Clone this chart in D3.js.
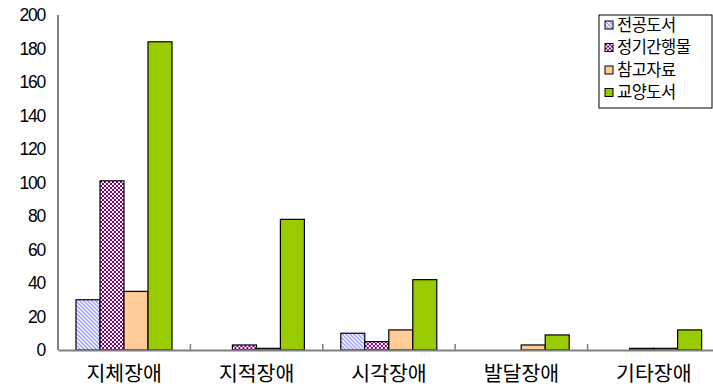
<!DOCTYPE html>
<html>
<head>
<meta charset="utf-8">
<script src="https://cdn.jsdelivr.net/npm/d3@7"></script>
<style>
  body { margin: 0; background: #fff; }
  text { font-family: "Noto Sans CJK KR", "Liberation Sans", sans-serif; }
</style>
</head>
<body>
<div id="chart"></div>
<script>
// Data
var categories = ["지체장애", "지적장애", "시각장애", "발달장애", "기타장애"];
var seriesNames = ["전공도서", "정기간행물", "참고자료", "교양도서"];
var major = [30, 0, 10, 0, 0];
var periodicals = [101, 3, 5, 0, 1];
var reference = [35, 1, 12, 3, 1];
var liberal = [184, 78, 42, 9, 12];
var yTicks = [0, 20, 40, 60, 80, 100, 120, 140, 160, 180, 200];

var seriesValues = [major, periodicals, reference, liberal];
var fills = ["url(#hatch)", "url(#checker)", "#ffcc99", "#99cc00"];

// Chart params
var svgWidth = 713;
var svgHeight = 392;
var margin = { top: 15, right: 0, bottom: 42, left: 58 };
var height = svgHeight - margin.top - margin.bottom;

var svg = d3.select("#chart")
  .append("svg")
  .attr("width", svgWidth)
  .attr("height", svgHeight);

// patterns
var defs = svg.append("defs");
var hatch = defs.append("pattern")
  .attr("id", "hatch")
  .attr("patternUnits", "userSpaceOnUse")
  .attr("width", 4).attr("height", 4);
hatch.append("rect").attr("width", 4).attr("height", 4).attr("fill", "#fff");
hatch.append("path")
  .attr("d", "M-1,-1 L5,5 M-1,3 L1,5 M3,-1 L5,1")
  .attr("stroke", "#9999ff")
  .attr("stroke-width", 1.4);

var checker = defs.append("pattern")
  .attr("id", "checker")
  .attr("patternUnits", "userSpaceOnUse")
  .attr("width", 4).attr("height", 4);
checker.append("rect").attr("width", 4).attr("height", 4).attr("fill", "#fff");
checker.append("rect").attr("width", 2).attr("height", 2).attr("fill", "#800080");
checker.append("rect").attr("x", 2).attr("y", 2).attr("width", 2).attr("height", 2).attr("fill", "#800080");

var chartGroup = svg.append("g")
  .attr("transform", `translate(${margin.left}, ${margin.top})`);

// Scales
var x0 = d3.scaleBand()
  .domain(categories)
  .range([0, 662]);

var x1 = d3.scaleBand()
  .domain(seriesNames)
  .range([18, 114]);

var y = d3.scaleLinear()
  .domain([0, 200])
  .range([height, 0]);

// y axis
var leftAxis = d3.axisLeft(y).tickValues(yTicks).tickSize(0).tickPadding(13);
var yAxisG = chartGroup.append("g").call(leftAxis);
yAxisG.select(".domain").attr("stroke", "#000").attr("d", `M0,0V${height}`);
yAxisG.selectAll("text")
  .style("font-family", "'Liberation Sans', sans-serif")
  .style("font-size", "17.5px")
  .style("letter-spacing", "-1.2px")
  .attr("fill", "#000");

// Bars
var groups = chartGroup.selectAll(".cat")
  .data(categories)
  .enter()
  .append("g")
  .attr("transform", d => `translate(${x0(d)}, 0)`);

groups.selectAll("rect")
  .data((d, i) => seriesNames.map((s, j) => ({ series: s, value: seriesValues[j][i], j: j })))
  .enter()
  .filter(d => d.value > 0)
  .append("rect")
  .attr("x", d => x1(d.series))
  .attr("y", d => y(d.value))
  .attr("width", x1.bandwidth())
  .attr("height", d => height - y(d.value))
  .attr("fill", d => fills[d.j])
  .attr("stroke", "#000")
  .attr("stroke-width", 1.2);

// x axis
var bottomAxis = d3.axisBottom(x0).tickSize(0).tickPadding(16);
var xAxisG = chartGroup.append("g")
  .attr("transform", `translate(0, ${height})`)
  .call(bottomAxis);
xAxisG.select(".domain").attr("stroke", "#808080").attr("stroke-width", 2);
xAxisG.selectAll("text")
  .style("font-size", "20.5px")
  .attr("fill", "#000");

// boundary ticks
chartGroup.selectAll(".btick")
  .data(categories.slice(1))
  .enter()
  .append("line")
  .attr("x1", d => x0(d))
  .attr("x2", d => x0(d))
  .attr("y1", height)
  .attr("y2", height - 6)
  .attr("stroke", "#808080")
  .attr("stroke-width", 1.5);

// Legend
var legend = svg.append("g")
  .attr("transform", "translate(599, 15)");
legend.append("rect")
  .attr("width", 113)
  .attr("height", 93)
  .attr("fill", "#fff")
  .attr("stroke", "#000");

var items = legend.selectAll(".item")
  .data(seriesNames)
  .enter()
  .append("g")
  .attr("transform", (d, i) => `translate(6, ${10 + i * 22.5})`);
items.append("rect")
  .attr("width", 8).attr("height", 8)
  .attr("y", -4)
  .attr("fill", (d, i) => fills[i])
  .attr("stroke", "#000");
items.append("text")
  .attr("x", 12)
  .attr("dy", "0.35em")
  .style("font-size", "16.5px")
  .style("letter-spacing", "-0.5px")
  .text(d => d);
</script>
</body>
</html>
